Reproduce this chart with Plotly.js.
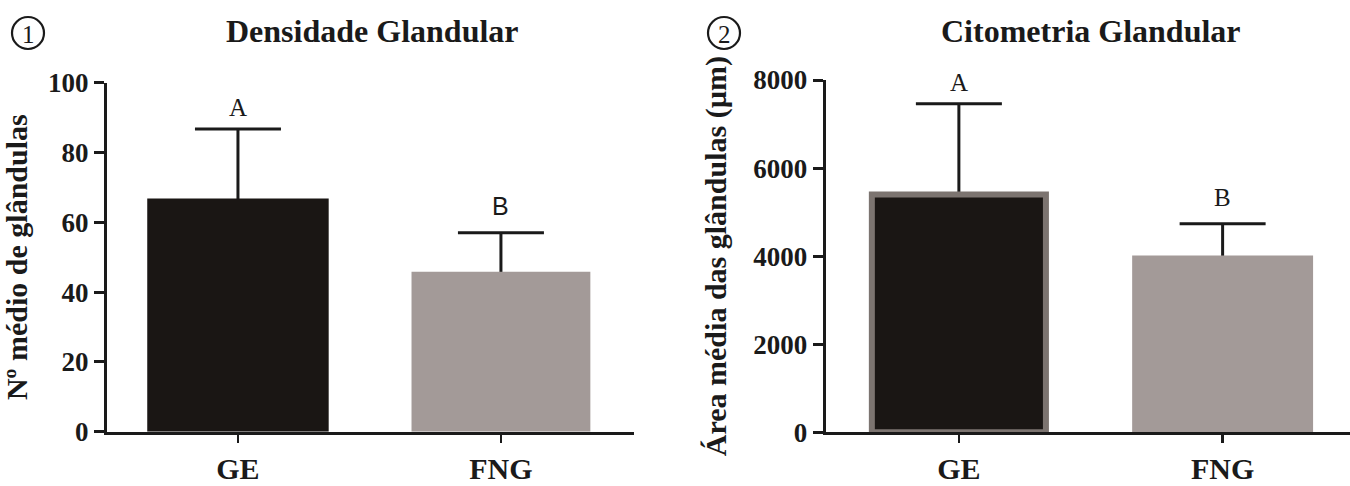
<!DOCTYPE html>
<html>
<head>
<meta charset="utf-8">
<script src="https://cdn.plot.ly/plotly-3.0.1.min.js"></script>
<style>html,body{margin:0;padding:0;background:#fff;}#chart{width:1350px;height:486px;}</style>
</head>
<body>
<div id="chart"></div>
<script>
// ---- data ----
const categories = ["GE", "FNG"];
const densityMean = [66.8, 45.8];
const densityErr = [19.9, 11.2];
const densityLetters = ["A", "B"];
const areaMean = [5400, 4015];
const areaErr = [2060, 720];
const areaLetters = ["A", "B"];
const panelTitles = ["Densidade Glandular", "Citometria Glandular"];
const panelNumbers = ["1", "2"];
const yTitles = ["Nº médio de glândulas", "Área média das glândulas (µm)"];

const W = 1350, H = 486;
const px = x => x / W;
const py = y => 1 - y / H;
const ink = "#1a1a1a";
const serif = "Liberation Serif, Times New Roman, serif";
const barColors = ["#1a1614", "#a39a98"];

// error bars are attached to an invisible copy of the bars drawn first;
// their lower caps sit inside the bars and are covered by the visible bars
function errTrace(means, errs, xa, ya, widths) {
  return {
    type: "bar", x: categories, y: means, xaxis: xa, yaxis: ya, width: widths,
    marker: {color: "rgba(0,0,0,0)", line: {width: 0}},
    error_y: {type: "data", symmetric: false, array: errs,
              arrayminus: means.map(m => m * 0.3),
              color: ink, thickness: 3, width: 43},
    hoverinfo: "skip", showlegend: false
  };
}

const traces = [
  errTrace(densityMean, densityErr, "x", "y", [0.69, 0.68]),
  {
    type: "bar", x: categories, y: densityMean, xaxis: "x", yaxis: "y",
    width: [0.69, 0.68],
    marker: {color: barColors, line: {width: 0}},
    hoverinfo: "skip", showlegend: false
  },
  errTrace(areaMean, areaErr, "x2", "y2", [0.66, 0.686]),
  {
    type: "bar", x: categories, y: areaMean, xaxis: "x2", yaxis: "y2",
    width: [0.66, 0.686],
    marker: {color: barColors, line: {width: [6, 0], color: ["#7c7470", "#a39a98"]}},
    hoverinfo: "skip", showlegend: false
  }
];

const yTickFont = {family: serif, size: 27, color: ink, weight: "bold"};
const xTickFont = {family: serif, size: 30, color: ink, weight: "bold"};
const axisTitleFont = {family: serif, size: 30, color: ink, weight: "bold"};

function xAxis(domain, range) {
  return {
    domain: domain, range: range, type: "category",
    showline: true, linewidth: 3, linecolor: ink,
    ticks: "outside", ticklen: 8, tickwidth: 2.5, tickcolor: ink,
    tickfont: xTickFont, showgrid: false, zeroline: false, fixedrange: true
  };
}
function yAxis(domain, range, dtick, title, standoff) {
  return {
    domain: domain, range: range, dtick: dtick, tick0: 0,
    showline: true, linewidth: 3, linecolor: ink,
    ticks: "outside", ticklen: 10, tickwidth: 3, tickcolor: ink,
    tickfont: yTickFont, showgrid: false, zeroline: false, fixedrange: true,
    title: {text: title, font: axisTitleFont, standoff: standoff}
  };
}

const annotations = [];
const letterShift = [6, 11];
categories.forEach((c, i) => {
  annotations.push({
    xref: "x", yref: "y", x: c, y: densityMean[i] + densityErr[i],
    text: densityLetters[i], showarrow: false, yanchor: "bottom", yshift: letterShift[i],
    font: {family: i === 0 ? serif : "Liberation Sans, Arial, sans-serif", size: 25, color: ink}
  });
  annotations.push({
    xref: "x2", yref: "y2", x: c, y: areaMean[i] + areaErr[i],
    text: areaLetters[i], showarrow: false, yanchor: "bottom", yshift: letterShift[i],
    font: {family: serif, size: 25, color: ink}
  });
});
// panel titles
[[372, 31], [1091, 31]].forEach((p, i) => {
  annotations.push({
    xref: "paper", yref: "paper", x: px(p[0]), y: py(p[1]), xanchor: "center", yanchor: "middle",
    text: panelTitles[i], showarrow: false,
    font: {family: serif, size: 32, color: ink, weight: "bold"}
  });
});
// panel numbers inside circles
const circles = [[28, 33], [724, 33]];
const shapes = [];
circles.forEach((c, i) => {
  const r = 16;
  shapes.push({type: "circle", xref: "paper", yref: "paper",
    x0: px(c[0] - r), x1: px(c[0] + r), y0: py(c[1] + r), y1: py(c[1] - r),
    line: {color: ink, width: 2.2}, fillcolor: "rgba(0,0,0,0)"});
  annotations.push({
    xref: "paper", yref: "paper", x: px(c[0]), y: py(c[1] + 1), xanchor: "center", yanchor: "middle",
    text: panelNumbers[i], showarrow: false,
    font: {family: serif, size: 25, color: ink}
  });
});

const layout = {
  width: W, height: H,
  margin: {l: 0, r: 0, t: 0, b: 0},
  paper_bgcolor: "#fff", plot_bgcolor: "rgba(0,0,0,0)",
  showlegend: false,
  barmode: "overlay",
  xaxis: xAxis([px(107), px(634)], [-0.498, 1.506]),
  yaxis: yAxis([py(431.7), py(82.7)], [0, 100], 20, yTitles[0], 12),
  xaxis2: xAxis([px(825.7), 1], [-0.505, 1.483]),
  yaxis2: yAxis([py(432.3), py(80)], [0, 8000], 2000, yTitles[1], 18),
  annotations: annotations,
  shapes: shapes
};
layout.xaxis2.anchor = "y2";
layout.yaxis2.anchor = "x2";

Plotly.newPlot("chart", traces, layout, {staticPlot: true, displayModeBar: false});
</script>
</body>
</html>
